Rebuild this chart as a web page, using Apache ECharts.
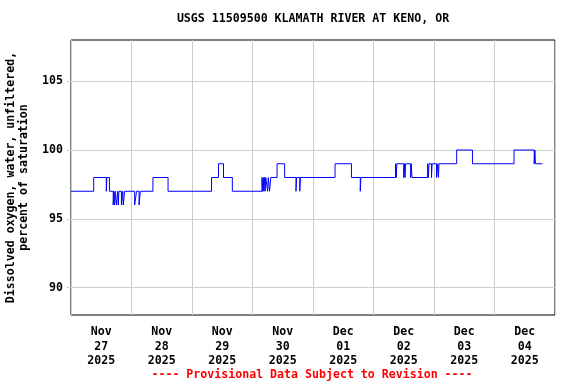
<!DOCTYPE html>
<html>
<head>
<meta charset="utf-8">
<script src="https://cdn.jsdelivr.net/npm/echarts@6/dist/echarts.min.js"></script>
<style>html,body{margin:0;padding:0;background:#fff}#c{width:576px;height:384px}</style>
</head>
<body>
<div id="c"></div>
<script>
// Change points of the 15-minute record (time, value in percent of saturation)
var changeTimes = [
  '2025-11-27 00:00','2025-11-27 09:00','2025-11-27 14:00','2025-11-27 14:15','2025-11-27 15:15',
  '2025-11-27 16:45','2025-11-27 17:00','2025-11-27 17:15','2025-11-27 17:30','2025-11-27 18:00',
  '2025-11-27 18:30','2025-11-27 18:45','2025-11-27 19:00','2025-11-27 20:00','2025-11-27 20:30',
  '2025-11-27 20:45','2025-11-27 21:15','2025-11-28 01:15','2025-11-28 02:00','2025-11-28 03:00',
  '2025-11-28 03:30','2025-11-28 08:30','2025-11-28 14:30','2025-11-29 07:45','2025-11-29 10:30',
  '2025-11-29 12:30','2025-11-29 16:00','2025-11-30 03:45','2025-11-30 04:00','2025-11-30 04:15',
  '2025-11-30 04:30','2025-11-30 04:45','2025-11-30 05:00','2025-11-30 05:15','2025-11-30 06:00',
  '2025-11-30 06:15','2025-11-30 06:45','2025-11-30 07:15','2025-11-30 09:45','2025-11-30 12:45',
  '2025-11-30 17:15','2025-11-30 17:30','2025-11-30 18:45','2025-11-30 19:00','2025-12-01 08:45',
  '2025-12-01 15:15','2025-12-01 18:45','2025-12-01 19:00','2025-12-02 08:45','2025-12-02 09:00',
  '2025-12-02 09:15','2025-12-02 12:00','2025-12-02 12:15','2025-12-02 12:30','2025-12-02 12:45',
  '2025-12-02 14:45','2025-12-02 15:00','2025-12-02 15:15','2025-12-02 21:30','2025-12-02 21:45',
  '2025-12-02 22:00','2025-12-02 23:00','2025-12-02 23:15','2025-12-03 01:00','2025-12-03 01:30',
  '2025-12-03 01:45','2025-12-03 02:00','2025-12-03 09:00','2025-12-03 15:15','2025-12-04 07:45',
  '2025-12-04 15:45','2025-12-04 16:00','2025-12-04 16:15','2025-12-04 19:00'
];
var changeValues = [
  97,98,97,98,97,
  96,97,96,97,96,
  97,96,97,96,97,
  96,97,96,97,96,
  97,98,97,98,99,
  98,97,98,97,98,
  97,98,97,98,97,
  98,97,98,99,98,
  97,98,97,98,99,
  98,97,98,99,98,
  99,98,99,98,99,
  98,99,98,99,98,
  99,98,99,98,99,
  98,99,100,99,100,
  99,100,99,99
];
var dayLabels = ['Nov\n27\n2025','Nov\n28\n2025','Nov\n29\n2025','Nov\n30\n2025',
                 'Dec\n01\n2025','Dec\n02\n2025','Dec\n03\n2025','Dec\n04\n2025'];
var yTicks = [90, 95, 100, 105];
var titleText = 'USGS 11509500 KLAMATH RIVER AT KENO, OR';
var yName = 'Dissolved oxygen, water, unfiltered,\npercent of saturation';
var footText = '---- Provisional Data Subject to Revision ----';

function parseT(s) {
  var p = s.split(/[- :]/).map(Number);
  return Date.UTC(p[0], p[1] - 1, p[2], p[3], p[4]);
}
var DAY = 86400000;
var xMin = Date.UTC(2025, 10, 27);
var xMax = Date.UTC(2025, 11, 5);
var data = changeTimes.map(function (t, i) { return [parseT(t), changeValues[i]]; });

var FONT = 'DejaVu Sans Mono';
var chart = echarts.init(document.getElementById('c'), null, {renderer: 'canvas'});
chart.setOption({
  animation: false,
  backgroundColor: '#fff',
  graphic: [{
    type: 'text', x: 313, y: 19,
    style: {text: titleText, align: 'center', verticalAlign: 'middle', fontFamily: FONT, fontSize: 11.6, fontWeight: 'bold', fill: '#000'}
  }, {
    type: 'text', x: 312, y: 375,
    style: {text: footText, align: 'center', verticalAlign: 'middle', fontFamily: FONT, fontSize: 11.6, fontWeight: 'bold', fill: '#ff0000'}
  }],
  grid: {left: 71, right: 21, top: 40, bottom: 69, outerBoundsMode: 'none', containLabel: false,
         show: true, borderColor: '#000', borderWidth: 1, backgroundColor: 'transparent'},
  xAxis: [{
    type: 'value', min: xMin, max: xMax, interval: DAY,
    axisLine: {show: false}, axisTick: {show: false}, axisLabel: {show: false},
    splitLine: {show: true, lineStyle: {color: '#cccccc', width: 1}}
  }, {
    type: 'value', min: xMin, max: xMax, interval: DAY / 2, position: 'bottom',
    axisLine: {show: false}, axisTick: {show: false}, splitLine: {show: false},
    axisLabel: {
      show: true, margin: 10, lineHeight: 14.5,
      fontFamily: FONT, fontSize: 11.6, fontWeight: 'bold', color: '#000',
      formatter: function (v) {
        var k = Math.round((v - xMin) / (DAY / 2));
        if (k % 2 === 1) return dayLabels[(k - 1) / 2] || '';
        return '';
      }
    }
  }],
  yAxis: {
    type: 'value', min: 88, max: 108,
    name: yName, nameLocation: 'middle', nameRotate: 90, nameGap: 40,
    nameTextStyle: {fontFamily: FONT, fontSize: 11.6, fontWeight: 'bold', color: '#000', lineHeight: 13.5, align: 'center'},
    axisLine: {show: false},
    axisTick: {show: true, length: 4, inside: false, customValues: yTicks, lineStyle: {color: '#cccccc'}},
    axisLabel: {customValues: yTicks, margin: 8, fontFamily: FONT, fontSize: 11.6, fontWeight: 'bold', color: '#000'},
    splitLine: {show: true, lineStyle: {color: '#cccccc', width: 1}}
  },
  series: [{
    type: 'line', xAxisIndex: 0, step: 'end', data: data, showSymbol: false,
    lineStyle: {color: '#0000ff', width: 1}, itemStyle: {color: '#0000ff'}
  }]
});
</script>
</body>
</html>
